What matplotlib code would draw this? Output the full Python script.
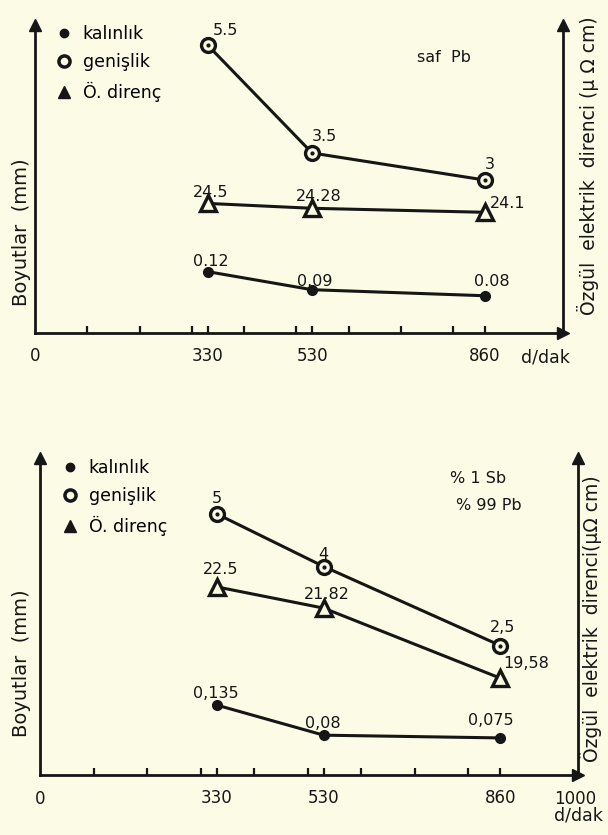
import matplotlib
matplotlib.use("Agg")
import matplotlib.pyplot as plt
from matplotlib.lines import Line2D

# devir hizi (d/dak)
hiz = [330, 530, 860]

# saf Pb
kal_pb = [0.12, 0.09, 0.08]
gen_pb = [5.5, 3.5, 3]
dir_pb = [24.5, 24.28, 24.1]
kal_pb_txt = ["0.12", "0.09", "0.08"]
gen_pb_txt = ["5.5", "3.5", "3"]
dir_pb_txt = ["24.5", "24.28", "24.1"]

# %1 Sb - %99 Pb
kal_sb = [0.135, 0.08, 0.075]
gen_sb = [5, 4, 2.5]
dir_sb = [22.5, 21.82, 19.58]
kal_sb_txt = ["0,135", "0,08", "0,075"]
gen_sb_txt = ["5", "4", "2,5"]
dir_sb_txt = ["22.5", "21.82", "19,58"]

minor_ticks = [100, 200, 300, 400, 500, 600, 700, 800]

ink = "#161616"
bg = "#fcfbe6"
W, H = 608, 835

plt.rcParams["font.family"] = ["DejaVu Sans"]
fig = plt.figure(figsize=(W / 100, H / 100), dpi=100, facecolor=bg)


def px(x, y):
    return x / W, 1 - y / H


def panel(left, right, top, bottom, xmax, seriler, tick_lbls):
    rect = [left / W, 1 - bottom / H, (right - left) / W, (bottom - top) / H]
    ax = fig.add_axes(rect)
    ax.set_facecolor("none")
    ax.set_xlim(0, xmax)
    ax.set_yticks([])
    ax.spines["top"].set_visible(False)
    for s in ["left", "bottom", "right"]:
        ax.spines[s].set_linewidth(2)
        ax.spines[s].set_color(ink)
    ax.set_xticks(minor_ticks + hiz, labels=[""] * len(minor_ticks) + [str(h) for h in hiz])
    ax.tick_params(axis="x", direction="in", length=5, width=1.6, color=ink,
                   labelsize=12, pad=10, labelcolor=ink)
    # oklar
    ax.plot([0], [1], marker="^", ms=9, color=ink, transform=ax.transAxes, clip_on=False)
    ax.plot([1], [1], marker="^", ms=9, color=ink, transform=ax.transAxes, clip_on=False)
    ax.plot([1], [0], marker=">", ms=9, color=ink, transform=ax.transAxes, clip_on=False)
    for lbl, xx in tick_lbls:
        ax.text(xx, -0.075, lbl, transform=ax.get_xaxis_transform(), ha="center",
                va="center", fontsize=12, color=ink)

    for vals, txts, ylim, kind, offs in seriler:
        t = ax.twinx()
        t.set_ylim(*ylim)
        t.axis("off")
        if kind == "kal":
            t.plot(hiz, vals, "-", color=ink, lw=2.2, marker="o", ms=7,
                   mfc=ink, mec=ink, clip_on=False)
        elif kind == "gen":
            t.plot(hiz, vals, "-", color=ink, lw=2.2, marker="o", ms=10,
                   mfc=bg, mec=ink, mew=2.4, clip_on=False)
            t.plot(hiz, vals, ".", color=ink, ms=4, clip_on=False)
        else:
            t.plot(hiz, vals, "-", color=ink, lw=2.2, marker="^", ms=11,
                   mfc=bg, mec=ink, mew=2.4, clip_on=False)
        for h, v, s, o in zip(hiz, vals, txts, offs):
            t.annotate(s, (h, v), xytext=o, textcoords="offset pixels",
                       ha="center", va="center", fontsize=11.5, color=ink)
    return ax


handles = [
    Line2D([], [], ls="none", marker="o", ms=6, color=ink),
    Line2D([], [], ls="none", marker="o", ms=8, mfc=bg, mec=ink, mew=2.5),
    Line2D([], [], ls="none", marker="^", ms=9, color=ink),
]
names = ["kalınlık", "genişlik", "Ö. direnç"]

# ---- ust grafik: saf Pb ----
ax1 = panel(35, 563, 25, 333, 1010,
            [(gen_pb, gen_pb_txt, (0.167, 5.87), "gen", [(18, 14), (12, 16), (5, 15)]),
             (dir_pb, dir_pb_txt, (18.66, 32.54), "dir", [(3, 11), (7, 12), (23, 9)]),
             (kal_pb, kal_pb_txt, (0.0182, 0.529), "kal", [(3, 10), (3, 8), (7, 14)])],
            [("0", 0)])
ax1.legend(handles, names, loc="upper left", bbox_to_anchor=px(48, 18),
           bbox_transform=fig.transFigure, frameon=False, fontsize=12.5,
           handlelength=1.0, handletextpad=0.6, labelspacing=0.6, borderaxespad=0)
fig.text(*px(444, 57), "saf  Pb", ha="center", va="center", fontsize=11.5, color=ink)
fig.text(*px(545, 358), "d/dak", ha="center", va="center", fontsize=12.5, color=ink)
fig.text(*px(22, 232), "Boyutlar  (mm)", rotation=90, ha="center", va="center",
         fontsize=14, color=ink)
fig.text(*px(588, 166), "Özgül  elektrik  direnci (μ Ω cm)", rotation=90,
         ha="center", va="center", fontsize=13.5, color=ink)

# ---- alt grafik: %1 Sb ----
ax2 = panel(40, 578, 458, 775, 1005,
            [(gen_sb, gen_sb_txt, (0.043, 6.06), "gen", [(0, 15), (0, 12), (2, 18)]),
             (dir_sb, dir_sb_txt, (16.485, 26.62), "dir", [(4, 17), (3, 14), (26, 15)]),
             (kal_sb, kal_sb_txt, (0.0073, 0.586), "kal", [(-1, 12), (-1, 12), (-10, 17)])],
            [("0", 0), ("1000", 1000)])
ax2.legend(handles, names, loc="upper left", bbox_to_anchor=px(54, 452),
           bbox_transform=fig.transFigure, frameon=False, fontsize=12.5,
           handlelength=1.0, handletextpad=0.6, labelspacing=0.6, borderaxespad=0)
fig.text(*px(478, 479), "% 1 Sb", ha="center", va="center", fontsize=11.5, color=ink)
fig.text(*px(489, 505), "% 99 Pb", ha="center", va="center", fontsize=11.5, color=ink)
fig.text(*px(578, 816), "d/dak", ha="center", va="center", fontsize=12.5, color=ink)
fig.text(*px(22, 663), "Boyutlar  (mm)", rotation=90, ha="center", va="center",
         fontsize=14, color=ink)
fig.text(*px(591, 619), "Özgül  elektrik  direnci(μΩ cm)", rotation=90,
         ha="center", va="center", fontsize=13.5, color=ink)

fig.savefig("out.png", dpi=100, facecolor=bg)
